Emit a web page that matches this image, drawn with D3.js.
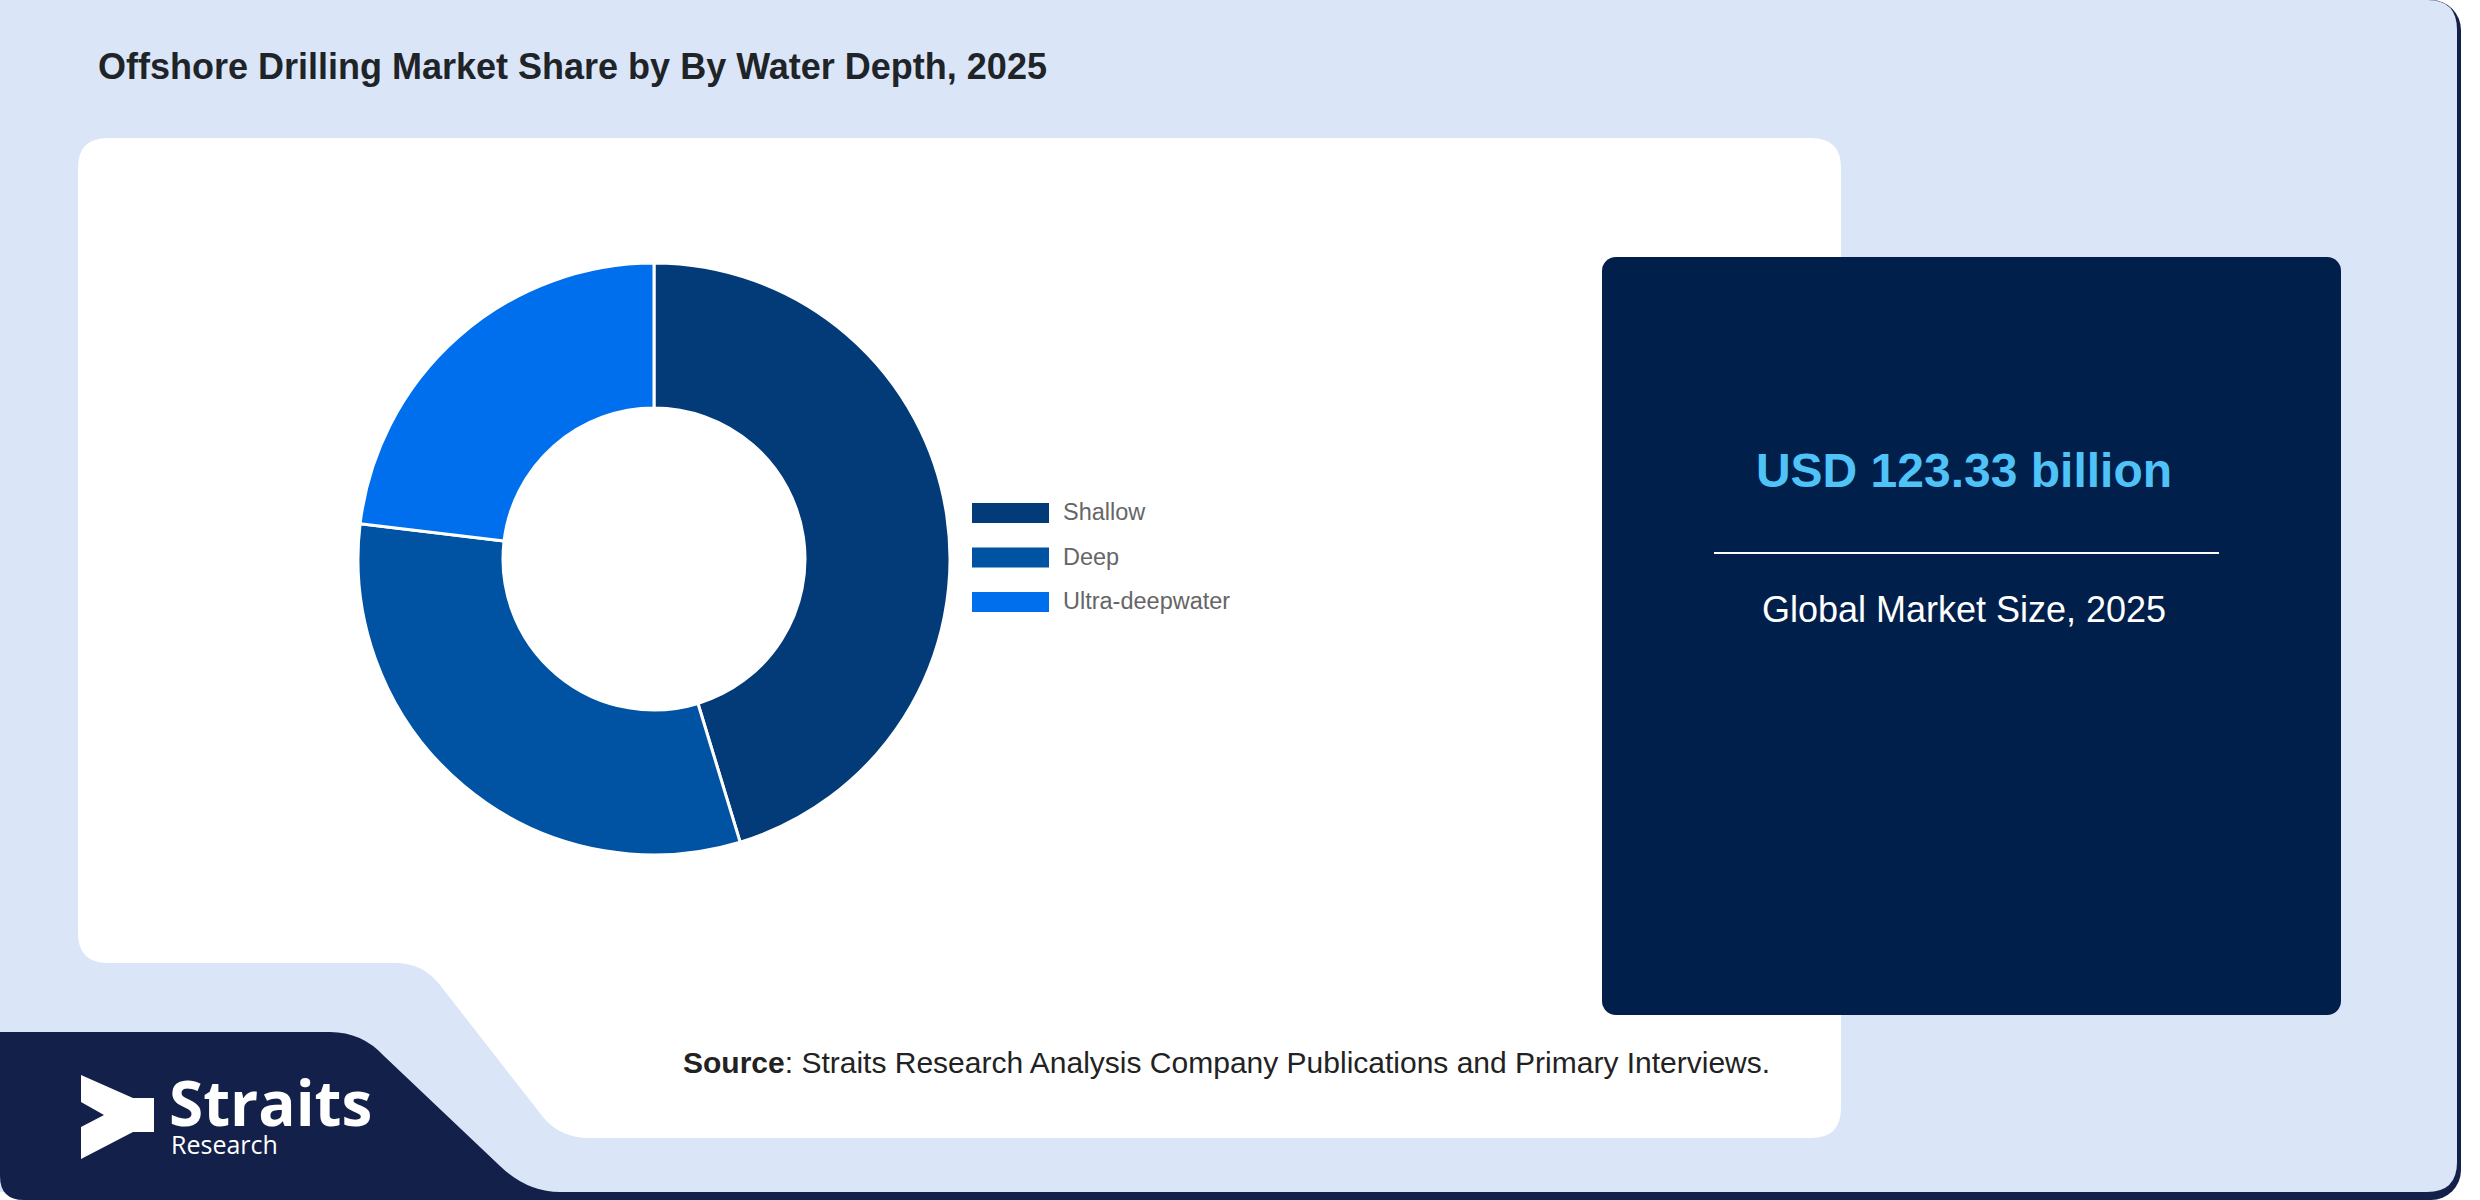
<html>
<head>
  <script src="https://cdn.jsdelivr.net/npm/d3@7"></script>
  <title>Offshore Drilling Market Share</title>
  <style>
    * {
      margin: 0;
      padding: 0;
    }
    body {
      background: #ffffff;
      width: 2480px;
      height: 1200px;
      overflow: hidden;
    }
  </style>
</head>
<body>
<div id="graph"></div>

<script>
  // chart data
  var categories = ["Shallow", "Deep", "Ultra-deepwater"];
  var shares = [45.3, 31.6, 23.1];
  var colors = ["#033b78", "#0052a3", "#006fed"];

  var titleText = "Offshore Drilling Market Share by By Water Depth, 2025";
  var marketValue = "USD 123.33 billion";
  var marketLabel = "Global Market Size, 2025";
  var sourceBold = "Source";
  var sourceRest = ": Straits Research Analysis Company Publications and Primary Interviews.";

  var w = 2480;
  var h = 1200;
  var navy = "#13204a";

  var svg = d3.select("#graph")
        .append("svg")
        .attr("width", w)
        .attr("height", h);

  // card background: navy base shows as a thin shadow under the light blue
  svg.append("rect")
     .attr("x", 0).attr("y", 0)
     .attr("width", 2461).attr("height", 1200)
     .attr("rx", 30)
     .attr("fill", navy);

  svg.append("path")
     .attr("d", "M0 0 H2428 Q2457 0 2457 30 V1162 Q2457 1192 2427 1192 H0 Z")
     .attr("fill", "#dae6f8");

  // white chart panel with the notch at the bottom left
  svg.append("path")
     .attr("d", "M108 138 H1811 Q1841 138 1841 168 V1108 Q1841 1138 1811 1138 H590 " +
                "Q560 1138 543 1117 L440 985 Q423 963 395 963 H108 Q78 963 78 933 V168 Q78 138 108 138 Z")
     .attr("fill", "#ffffff");

  // navy logo block
  svg.append("path")
     .attr("d", "M0 1032 H330 Q362 1032 384 1056 L500 1166 Q527 1192 560 1192 H2000 V1200 H24 Q0 1200 0 1176 Z")
     .attr("fill", navy);

  // title
  svg.append("text")
     .attr("x", 98)
     .attr("y", 79)
     .attr("font-family", "'Liberation Sans', Arial, sans-serif")
     .attr("font-weight", "bold")
     .attr("font-size", 36)
     .attr("fill", "#1f2429")
     .text(titleText);

  // donut
  var cx = 654, cy = 559;
  var pie = d3.pie().sort(null).value(function(d) { return d; });
  var arc = d3.arc().innerRadius(151).outerRadius(296);

  var donut = svg.append("g")
        .attr("transform", "translate(" + cx + "," + cy + ")");

  donut.selectAll("path")
     .data(pie(shares))
     .enter()
     .append("path")
     .attr("d", arc)
     .attr("fill", function(d, i) { return colors[i]; })
     .attr("stroke", "#ffffff")
     .attr("stroke-width", 3);

  // legend
  var legend = svg.append("g")
        .attr("transform", "translate(972,503)");

  var items = legend.selectAll("g")
     .data(categories)
     .enter()
     .append("g")
     .attr("transform", function(d, i) { return "translate(0," + (i * 44.5) + ")"; });

  items.append("rect")
     .attr("width", 77)
     .attr("height", 20)
     .attr("fill", function(d, i) { return colors[i]; });

  items.append("text")
     .attr("x", 91)
     .attr("y", 17)
     .attr("font-family", "'Liberation Sans', Arial, sans-serif")
     .attr("font-size", 23.5)
     .attr("fill", "#666666")
     .text(function(d) { return d; });

  // market size box
  svg.append("rect")
     .attr("x", 1602).attr("y", 257)
     .attr("width", 739).attr("height", 758)
     .attr("rx", 14)
     .attr("fill", "#011f4b");

  svg.append("text")
     .attr("x", 1964)
     .attr("y", 487)
     .attr("text-anchor", "middle")
     .attr("font-family", "'Liberation Sans', Arial, sans-serif")
     .attr("font-weight", "bold")
     .attr("font-size", 48)
     .attr("fill", "#4fc3f7")
     .text(marketValue);

  svg.append("line")
     .attr("x1", 1714).attr("x2", 2219)
     .attr("y1", 553).attr("y2", 553)
     .attr("stroke", "#ffffff")
     .attr("stroke-width", 2);

  svg.append("text")
     .attr("x", 1964)
     .attr("y", 622)
     .attr("text-anchor", "middle")
     .attr("font-family", "'Liberation Sans', Arial, sans-serif")
     .attr("font-size", 36)
     .attr("fill", "#ffffff")
     .text(marketLabel);

  // source line
  var src = svg.append("text")
     .attr("x", 683)
     .attr("y", 1073)
     .attr("font-family", "'Liberation Sans', Arial, sans-serif")
     .attr("font-size", 30)
     .attr("fill", "#222222");
  src.append("tspan").attr("font-weight", "bold").text(sourceBold);
  src.append("tspan").text(sourceRest);

  // logo
  svg.append("polygon")
     .attr("points", "81,1075 133,1098 154,1098 154,1132 133,1132 81,1159 81,1127 104,1115 81,1102")
     .attr("fill", "#ffffff");

  svg.append("text")
     .attr("x", 169)
     .attr("y", 1126)
     .attr("font-family", "'Open Sans', 'Noto Sans', sans-serif")
     .attr("font-weight", "bold")
     .attr("font-size", 62)
     .attr("fill", "#ffffff")
     .text("Straits");

  svg.append("text")
     .attr("x", 171)
     .attr("y", 1154)
     .attr("font-family", "'Open Sans', 'Noto Sans', sans-serif")
     .attr("font-size", 25)
     .attr("fill", "#ffffff")
     .text("Research");
</script>

</body>
</html>
